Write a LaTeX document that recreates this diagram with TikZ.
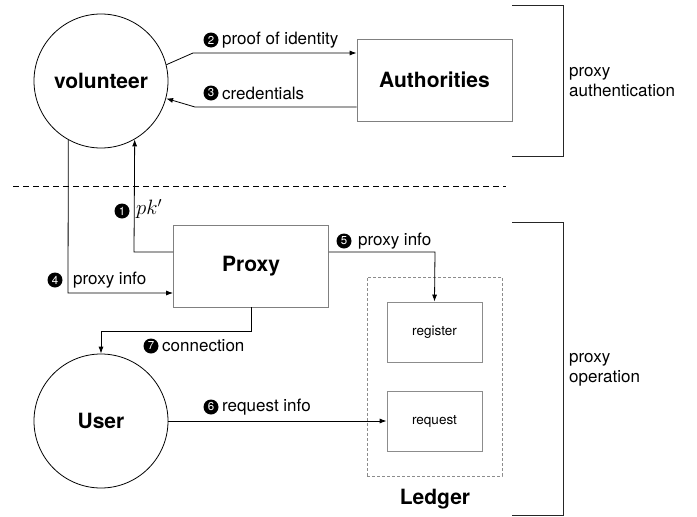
\documentclass[tikz,border=0pt]{standalone}
\usepackage{fontspec}
\setmainfont{TeX Gyre Heros}
\usetikzlibrary{arrows.meta}
\begin{document}
\begin{tikzpicture}[x=1pt,y=-1pt,
  every node/.style={inner sep=0pt},
  party/.style={circle,draw=black,line width=0.8pt,minimum size=134pt,
    font=\fontsize{21}{25}\selectfont\bfseries},
  actor/.style={rectangle,draw=black!50,line width=0.8pt,minimum width=155pt,
    minimum height=82pt,font=\fontsize{21}{25}\selectfont\bfseries},
  slot/.style={rectangle,draw=black!45,line width=0.8pt,minimum width=95pt,
    minimum height=60pt,font=\fontsize{13.5}{16}\selectfont},
  store/.style={rectangle,draw=black!45,dash pattern=on 3pt off 2pt,
    line width=0.7pt,minimum width=135pt,minimum height=199pt},
  num/.style={circle,fill=black,text=white,minimum size=15pt,inner sep=0pt,
    font=\fontsize{11.5}{13}\selectfont},
  lbl/.style={anchor=west,font=\fontsize{17}{20}\selectfont},
  side/.style={anchor=west,align=left,font=\fontsize{17}{20}\selectfont},
  flow/.style={draw=black,line width=0.8pt,-{Latex[length=7pt,width=5pt]}},
  bracket/.style={draw=black!85,line width=0.9pt},
  sep/.style={draw=black,line width=0.8pt,dash pattern=on 6pt off 4pt},
]
\useasboundingbox (0,0) rectangle (697,517);

% parties and components
\node[party] (vol) at (101,81) {volunteer};
\node[party] (user) at (101,421) {User};
\node[actor] (auth) at (434.5,80) {Authorities};
\node[actor] (proxy) at (251,266) {Proxy};
\node[store] (ledger) at (434.5,376.5) {};
\node[slot] (register) at (434.5,332) {register};
\node[slot] (request) at (434.5,421) {request};
\node[font=\fontsize{21}{25}\selectfont\bfseries] (ledgerlbl) at (435,499) {Ledger};

% phase separator
\draw[sep] (13,186) -- (506,186);

% phase brackets
\coordinate (ba1) at (512,5);
\coordinate (ba2) at (563,156);
\draw[bracket] (ba1) -- (ba1 -| ba2) -- (ba2) -- (ba2 -| ba1);
\node[side] (authphase) at (569,82) {proxy\\authentication};

\coordinate (bo1) at (512,222);
\coordinate (bo2) at (563,515);
\draw[bracket] (bo1) -- (bo1 -| bo2) -- (bo2) -- (bo2 -| bo1);
\node[side] (opphase) at (569,370) {proxy\\operation};

% bend points of the connectors
\coordinate (k2) at (193,53);
\coordinate (k3) at (195,107);
\coordinate (k1) at (134,252);
\coordinate (k4) at (68,293);
\coordinate (k5) at (435,252);
\coordinate (k7) at (251,331);

% 1: public key from proxy to volunteer
\draw[flow] (proxy.west |- k1) -- (k1) -- (vol.-60.5);
\node[num] (n1) at (122,211) {1};
\node[anchor=west,font=\fontsize{22}{25}\selectfont] (t1) at (136,209) {$pk'$};

% 2: proof of identity
\draw[flow] (vol.14) -- (k2) -- (k2 -| auth.west);
\node[num] (n2) at (211,40) {2};
\node[lbl] (t2) at (222,40) {proof of identity};

% 3: credentials
\draw[flow] (k3 -| auth.west) -- (k3) -- (vol.-15);
\node[num] (n3) at (211,93) {3};
\node[lbl] (t3) at (222,93) {credentials};

% 4: proxy info to proxy
\draw[flow] (vol.-119.5) -- (k4) -- (k4 -| proxy.west);
\node[num] (n4) at (55,280) {4};
\node[lbl] (t4) at (73,280) {proxy info};

% 5: proxy info to register
\draw[flow] (proxy.east |- k5) -- (k5) -- (register.north);
\node[num] (n5) at (344,241) {5};
\node[lbl] (t5) at (358,241) {proxy info};

% 6: request info
\draw[flow] (user.east) -- (request.west);
\node[num] (n6) at (211,407) {6};
\node[lbl] (t6) at (222,407) {request info};

% 7: connection
\draw[flow] (proxy.south) -- (k7) -- (k7 -| user.north) -- (user.north);
\node[num] (n7) at (151,346) {7};
\node[lbl] (t7) at (162,346) {connection};
\end{tikzpicture}
\end{document}
